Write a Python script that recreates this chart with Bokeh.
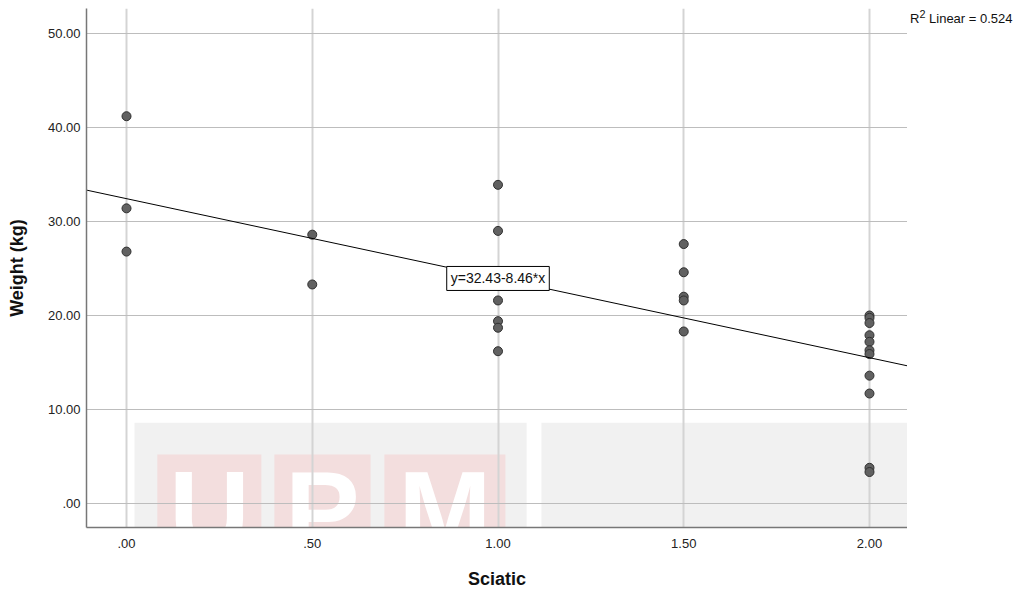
from bokeh.plotting import figure
from bokeh.layouts import row
from bokeh.models import Range1d, FixedTicker, Label, CustomJSTickFormatter, BoxAnnotation, Div
from bokeh.embed import file_html
from bokeh.resources import INLINE

# ---- data ----
sciatic = [0, 0, 0,
           0.5, 0.5,
           1, 1, 1, 1, 1, 1,
           1.5, 1.5, 1.5, 1.5, 1.5,
           2, 2, 2, 2, 2, 2, 2, 2, 2, 2, 2]
weight = [41.2, 31.4, 26.8,
          28.6, 23.3,
          33.9, 29.0, 21.6, 19.4, 18.7, 16.2,
          27.6, 24.6, 22.0, 21.6, 18.3,
          20.0, 19.75, 19.2, 17.9, 17.2, 16.3, 15.9, 13.6, 11.7, 3.8, 3.35]
fit_intercept = 32.43
fit_slope = -8.46
r2_linear = 0.524

x_ticks = [0, 0.5, 1, 1.5, 2]
x_tick_labels = [".00", ".50", "1.00", "1.50", "2.00"]
y_ticks = [0, 10, 20, 30, 40, 50]
y_tick_labels = [".00", "10.00", "20.00", "30.00", "40.00", "50.00"]

FONT = "Liberation Sans"

X_LO, X_HI = -0.1077, 2.1023
Y_LO, Y_HI = -2.553, 52.66

p = figure(width=907, height=592, output_backend="svg", toolbar_location=None,
           x_range=Range1d(X_LO, X_HI), y_range=Range1d(Y_LO, Y_HI),
           min_border_left=86, min_border_right=0, min_border_top=8, min_border_bottom=65)
p.outline_line_color = None
p.background_fill_color = "white"
p.border_fill_color = "white"

# ---- faint scanned watermark (decoration, only its part inside the plot area shows) ----
wm_grey = "#f1f1f1"
wm_pink = "#f3dede"
for l, r in [(0.0215, 1.077), (1.117, 2.172)]:
    p.add_layout(BoxAnnotation(left=l, right=r, top=8.6, bottom=-12, fill_color=wm_grey,
                               fill_alpha=1, line_alpha=0, level="image"))
for l, r, ch in [(0.083, 0.363, "U"), (0.398, 0.657, "P"), (0.694, 1.02, "M")]:
    p.add_layout(BoxAnnotation(left=l, right=r, top=5.2, bottom=-6.7, fill_color=wm_pink,
                               fill_alpha=1, line_alpha=0, level="image"))
    p.add_layout(Label(x=(l + r) / 2, y=-0.75, text=ch, text_align="center", text_baseline="middle",
                       text_font=FONT, text_font_size="112px", text_font_style="bold",
                       text_color="white", level="image"))

fmt_code = "const i = tv.indexOf(tick); return i >= 0 ? tl[i] : '';"

for ax, ticks, labels in [(p.xaxis, x_ticks, x_tick_labels), (p.yaxis, y_ticks, y_tick_labels)]:
    ax.ticker = FixedTicker(ticks=ticks)
    ax.formatter = CustomJSTickFormatter(args=dict(tv=ticks, tl=labels), code=fmt_code)
    ax.major_tick_in = 0
    ax.major_tick_out = 0
    ax.minor_tick_in = 0
    ax.minor_tick_out = 0
    ax.axis_line_color = "#777777"
    ax.axis_line_width = 1.5
    ax.major_label_text_font = FONT
    ax.major_label_text_font_size = "13px"
    ax.major_label_text_color = "#222222"
    ax.axis_label_text_font = FONT
    ax.axis_label_text_font_size = "18px"
    ax.axis_label_text_font_style = "bold"
    ax.axis_label_text_color = "#111111"

p.xaxis.axis_label = "Sciatic"
p.yaxis.axis_label = "Weight (kg)"
p.xaxis.major_label_standoff = 11
p.xaxis.axis_label_standoff = 18
p.yaxis.major_label_standoff = 6
p.yaxis.axis_label_standoff = 18

p.xgrid.grid_line_color = "#d4d4d4"
p.xgrid.grid_line_width = 2
p.ygrid.grid_line_color = "#bdbdbd"
p.ygrid.grid_line_width = 1.2

p.scatter(sciatic, weight, size=9, fill_color="#616161", line_color="#303030", line_width=1)

# fit line from the reported coefficients, across the chart width
fit_x = [X_LO, X_HI]
fit_y = [fit_intercept + fit_slope * v for v in fit_x]
p.line(fit_x, fit_y, line_color="black", line_width=1)

eq_text = f"y={fit_intercept:.2f}-{abs(fit_slope):.2f}*x"
p.add_layout(Label(x=1.0, y=23.94, text=eq_text, text_align="center", text_baseline="middle",
                   text_font=FONT, text_font_size="14px", text_color="#111111",
                   background_fill_color="white", border_line_color="black", border_line_width=1,
                   padding=4))

# R² note sits to the right of the chart area
note = Div(text=f"R<sup>2</sup> Linear = {r2_linear}", width=108, height=592, margin=(0, 0, 0, 0),
           styles={"font-family": FONT, "font-size": "13px", "color": "#111111",
                   "padding-left": "3px", "padding-top": "7px", "box-sizing": "border-box",
                   "white-space": "nowrap", "background-color": "white"})

layout = row(p, note)
open("out.html", "w").write(file_html(layout, INLINE))
